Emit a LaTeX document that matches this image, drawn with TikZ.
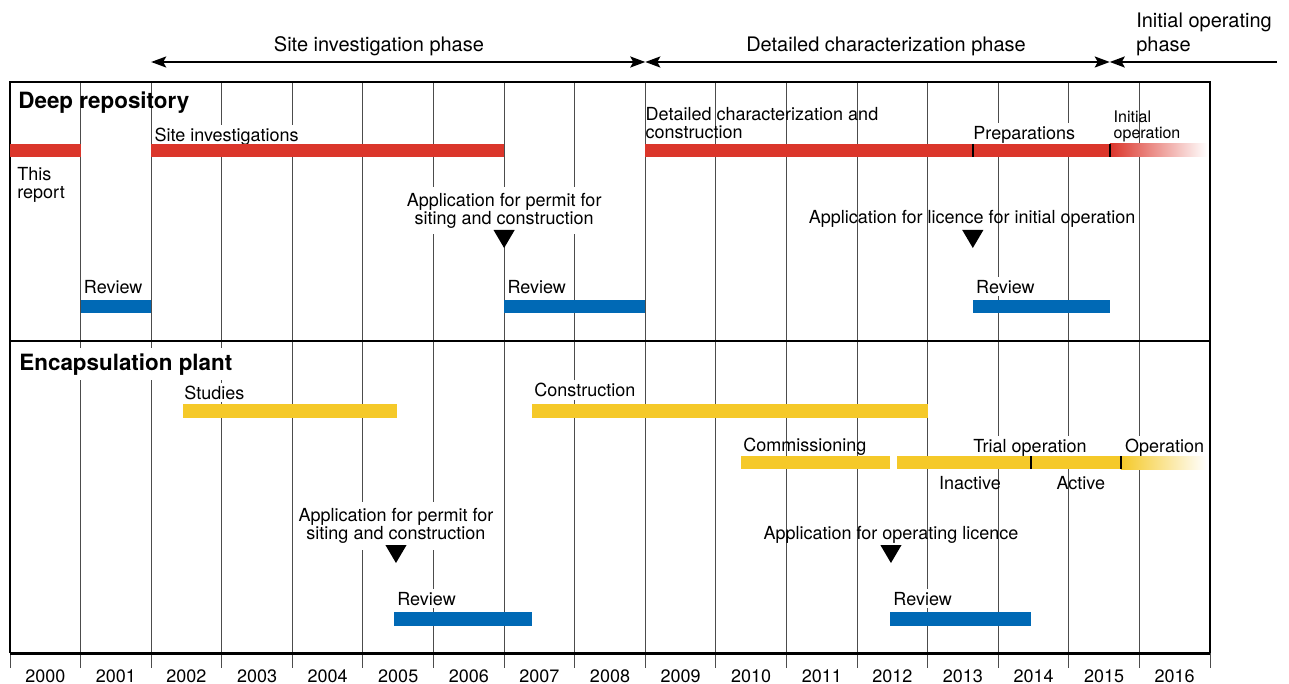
\documentclass[tikz,border=0pt]{standalone}
\usepackage{fontspec}
\setmainfont{TeX Gyre Heros}
\usetikzlibrary{arrows.meta}
\definecolor{cred}{rgb}{0.86, 0.21, 0.17}
\definecolor{cblue}{rgb}{0, 0.41, 0.71}
\definecolor{cyel}{rgb}{0.96, 0.79, 0.16}
\definecolor{gris}{rgb}{0.3, 0.3, 0.3}

\begin{document}
\begin{tikzpicture}[x=35.294pt, y=-0.5pt, >={Stealth[length=7.5pt, width=5.5pt, inset=1.5pt]}]
  \tikzstyle{txt}=[font=\fontsize{9}{9}\selectfont, inner sep=1.5pt, text=black]
  \tikzstyle{box}=[txt, fill=white]
  \tikzstyle{phase}=[font=\fontsize{10}{12}\selectfont, inner sep=0pt]
  \tikzstyle{head}=[font=\fontsize{11.2}{13}\selectfont\bfseries, inner sep=0pt]
  \tikzstyle{grid}=[draw=gris, line width=0.5pt]
  \tikzstyle{sep}=[line width=1.2pt]

	\useasboundingbox (-0.1417,0) rectangle (18.119,684);

	% year grid
	\foreach \i in {1,...,16} \draw[grid] (\i,82) -- (\i,653);
	\foreach \i in {0,...,17} \draw[grid] (\i,653) -- (\i,668);
	\foreach \yr [count=\i from 0] in {2000,...,2016}
		\node[txt, anchor=base] (y\yr) at (\i+0.5,682) {\yr};

	% frame
	\draw[line width=0.9pt] (0,653) -- (0,82) -- (17,82) -- (17,653);
	\draw[line width=1pt] (0,341) -- (17,341);
	\draw[line width=1.5pt] (0,653) -- (17,653);

	% phases
	\coordinate (P0) at (2,62);
	\coordinate (P1) at (9,62);
	\coordinate (P2) at (15.58,62);
	\coordinate (P3) at (17.95,62);
	\draw[line width=1pt, <->] (P0) -- (P1);
	\draw[line width=1pt, <->] (P1) -- (P2);
	\draw[line width=1pt, <-] (P2) -- (P3);
	\node[phase, anchor=base] (ph1) at (5.227,52) {Site investigation phase};
	\node[phase, anchor=base] (ph2) at (12.41,52) {Detailed characterization phase};
	\node[phase, anchor=north west, align=left] (ph3) at (15.95,13) {Initial operating\\phase};

	% deep repository
	\node[head, anchor=base west] (deep) at (0.113,109) {Deep repository};
	\node[box, anchor=base west] (siteinv) at (2,141.5) {Site investigations};
	\node[txt, inner sep=0pt, anchor=north west, align=left] (report) at (0.099,167) {This\\report};
	\node[txt, inner sep=0pt, anchor=north west, align=left] (detcon) at (9,107) {Detailed characterization and\\construction};
	\node[box, anchor=base west] (prep) at (13.6,139.5) {Preparations};
	\node[txt, font=\fontsize{8}{8}\selectfont, inner sep=0pt, anchor=north west, align=left] (initop) at (15.63,110) {Initial\\operation};
	\fill[cred] (0,144) rectangle (1,157);
	\fill[cred] (2,144) rectangle (7,157);
	\fill[cred] (9,144) rectangle (15.58,157);
	\shade[left color=cred, right color=white] (15.58,144) rectangle (16.96,157);
	\draw[sep] (13.64,144) -- (13.64,157);
	\draw[sep] (15.58,144) -- (15.58,157);

	\node[box, inner sep=3pt, anchor=north, align=center] (appA) at (7,187) {Application for permit for\\siting and construction};
	\fill (7-0.15,230) -- (7+0.15,230) -- (7,248) -- cycle;
	\node[txt, anchor=base] (appB) at (13.63,223.3) {Application for licence for initial operation};
	\fill (13.64-0.15,230) -- (13.64+0.15,230) -- (13.64,248) -- cycle;

	\node[box, anchor=base west] (revA) at (1,293) {Review};
	\node[box, anchor=base west] (revB) at (7,293) {Review};
	\node[box, anchor=base west] (revC) at (13.64,293) {Review};
	\fill[cblue] (1,300) rectangle (2,313);
	\fill[cblue] (7,300) rectangle (9,313);
	\fill[cblue] (13.64,300) rectangle (15.58,313);

	% encapsulation plant
	\node[head, fill=white, inner sep=2.5pt, anchor=base west] (encap) at (0.057,370) {Encapsulation plant};
	\node[box, anchor=base west] (studies) at (2.422,399) {Studies};
	\node[box, anchor=base west] (constr) at (7.38,396.7) {Construction};
	\fill[cyel] (2.451,404) rectangle (5.483,418);
	\fill[cyel] (7.395,404) rectangle (13,418);

	\node[txt, inner sep=0pt, anchor=base west] (comm) at (10.384,451.7) {Commissioning};
	\node[box, anchor=base] (trial) at (14.45,452) {Trial operation};
	\node[box, anchor=base west] (oper) at (15.75,452) {Operation};
	\node[txt, anchor=base] (inact) at (13.6,489) {Inactive};
	\node[txt, anchor=base] (act) at (15.17,489) {Active};
	\fill[cyel] (10.356,456) rectangle (12.467,469);
	\fill[cyel] (12.566,456) rectangle (15.74,469);
	\shade[left color=cyel, right color=white] (15.74,456) rectangle (16.95,469);
	\draw[sep] (14.46,456) -- (14.46,469);
	\draw[sep] (15.74,456) -- (15.74,469);

	\node[box, inner sep=3pt, anchor=north, align=center] (appC) at (5.468,502) {Application for permit for\\siting and construction};
	\fill (5.468-0.15,545) -- (5.468+0.15,545) -- (5.468,563) -- cycle;
	\node[txt, anchor=base] (appD) at (12.48,539.3) {Application for operating licence};
	\fill (12.48-0.15,545) -- (12.48+0.15,545) -- (12.48,563) -- cycle;

	\node[box, anchor=base west] (revD) at (5.44,605) {Review};
	\node[box, anchor=base west] (revE) at (12.467,605) {Review};
	\fill[cblue] (5.44,612) rectangle (7.39,626);
	\fill[cblue] (12.467,612) rectangle (14.46,626);

\end{tikzpicture}
\end{document}
